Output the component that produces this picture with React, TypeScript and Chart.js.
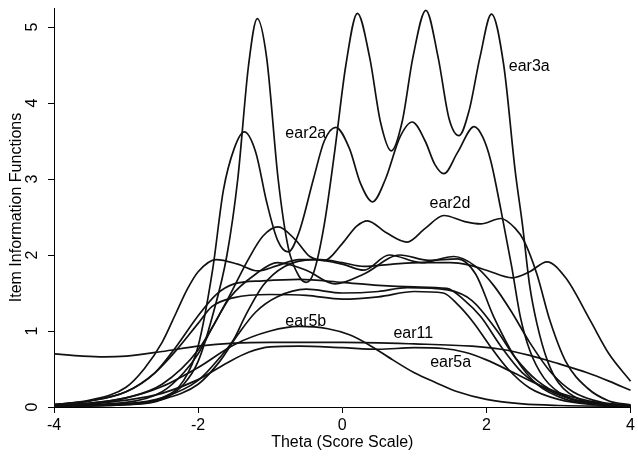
import React, { useEffect, useRef } from 'react';
import { Chart, registerables } from 'chart.js';

Chart.register(...registerables);

const FONT = '"Liberation Sans", Arial, Helvetica, sans-serif';

// ---- axis ticks ----
const xTicks = [-4, -2, 0, 2, 4];
const yTicks = [0, 1, 2, 3, 4, 5];

// ---- item information curves (theta, information) ----
const ear3aX = [-4, -3, -2.5, -2.2, -2.0, -1.8, -1.6, -1.45, -1.3, -1.18, -1.05, -0.89, -0.75, -0.6, -0.5, -0.4, -0.25, -0.1, 0.05, 0.21, 0.38, 0.53, 0.68, 0.83, 0.98, 1.16, 1.33, 1.48, 1.62, 1.76, 1.91, 2.07, 2.24, 2.4, 2.5, 2.6, 2.7, 2.85, 3.0, 3.3, 3.6, 4];
const ear3aY = [0.01, 0.03, 0.1, 0.3, 0.6, 1.2, 2.0, 3.0, 4.5, 5.11, 4.6, 3.0, 2.1, 1.72, 1.64, 1.76, 2.4, 3.4, 4.5, 5.18, 4.6, 3.75, 3.37, 3.75, 4.6, 5.22, 4.6, 3.8, 3.57, 3.9, 4.6, 5.17, 4.5, 3.1, 2.4, 1.6, 1.1, 0.6, 0.32, 0.1, 0.04, 0.01];

const ear2aX = [-4, -3, -2.5, -2.2, -2.0, -1.8, -1.65, -1.5, -1.36, -1.2, -1.05, -0.9, -0.75, -0.6, -0.4, -0.25, -0.09, 0.1, 0.25, 0.42, 0.6, 0.8, 0.97, 1.15, 1.28, 1.41, 1.6, 1.83, 1.95, 2.06, 2.2, 2.35, 2.47, 2.6, 2.8, 3.1, 3.5, 4];
const ear2aY = [0.01, 0.04, 0.12, 0.35, 0.8, 1.8, 2.85, 3.4, 3.62, 3.35, 2.7, 2.2, 2.04, 2.3, 3.0, 3.5, 3.68, 3.4, 2.95, 2.7, 3.0, 3.55, 3.75, 3.5, 3.2, 3.07, 3.35, 3.69, 3.55, 3.24, 2.6, 1.85, 1.19, 0.75, 0.38, 0.14, 0.05, 0.01];

const ear2dX = [-4, -3.5, -3, -2.5, -2.0, -1.6, -1.3, -1.1, -0.89, -0.65, -0.45, -0.25, 0.0, 0.2, 0.35, 0.6, 0.9, 1.15, 1.41, 1.7, 1.92, 2.2, 2.4, 2.52, 2.7, 2.88, 3.1, 3.4, 3.7, 4];
const ear2dY = [0.02, 0.05, 0.12, 0.3, 0.75, 1.4, 1.95, 2.25, 2.37, 2.2, 1.98, 1.93, 2.15, 2.38, 2.45, 2.3, 2.17, 2.35, 2.52, 2.44, 2.41, 2.48, 2.35, 2.19, 1.75, 1.14, 0.6, 0.25, 0.08, 0.03];

const item04X = [-4, -3.5, -3, -2.75, -2.5, -2.3, -2.15, -2.0, -1.75, -1.45, -1.17, -0.9, -0.6, -0.3, 0.0, 0.3, 0.7, 1.1, 1.5, 1.75, 2.0, 2.36, 2.6, 2.84, 3.1, 3.44, 3.7, 4];
const item04Y = [0.03, 0.09, 0.26, 0.5, 0.85, 1.25, 1.55, 1.78, 1.94, 1.88, 1.79, 1.86, 1.94, 1.94, 1.9, 1.85, 1.88, 1.9, 1.9, 1.87, 1.8, 1.7, 1.78, 1.91, 1.7, 1.14, 0.7, 0.34];

const item05X = [-4, -3, -2.5, -2.0, -1.7, -1.5, -1.35, -1.1, -0.8, -0.4, 0.0, 0.3, 0.65, 1.1, 1.55, 1.85, 2.1, 2.35, 2.6, 2.9, 3.2, 3.6, 4];
const item05Y = [0.01, 0.04, 0.12, 0.35, 0.65, 0.9, 1.19, 1.6, 1.85, 1.94, 1.88, 1.8, 2.0, 1.9, 1.98, 1.85, 1.6, 1.25, 0.85, 0.45, 0.2, 0.06, 0.02];

const item06X = [-4, -3, -2.5, -2.2, -2.0, -1.8, -1.55, -1.2, -0.9, -0.5, -0.1, 0.3, 0.8, 1.2, 1.6, 1.85, 2.1, 2.4, 2.7, 3.1, 3.5, 4];
const item06Y = [0.02, 0.06, 0.2, 0.45, 0.7, 1.05, 1.45, 1.75, 1.9, 1.8, 1.62, 1.75, 2.0, 1.93, 1.95, 1.75, 1.19, 0.65, 0.3, 0.1, 0.04, 0.01];

const item07X = [-4, -3, -2.5, -2.0, -1.7, -1.45, -1.2, -0.9, -0.5, 0.0, 0.5, 0.9, 1.46, 1.8, 2.15, 2.4, 2.7, 3.1, 3.5, 4];
const item07Y = [0.01, 0.03, 0.1, 0.3, 0.6, 0.95, 1.25, 1.45, 1.55, 1.5, 1.52, 1.57, 1.54, 1.4, 1.0, 0.65, 0.35, 0.13, 0.04, 0.01];

const item08X = [-4, -3.5, -3, -2.6, -2.3, -2.0, -1.75, -1.5, -1.1, -0.6, 0.0, 0.5, 1.0, 1.45, 1.7, 1.92, 2.2, 2.5, 2.86, 3.2, 3.6, 4];
const item08Y = [0.03, 0.08, 0.2, 0.45, 0.8, 1.2, 1.48, 1.62, 1.66, 1.68, 1.64, 1.6, 1.58, 1.56, 1.4, 1.19, 0.8, 0.45, 0.22, 0.1, 0.04, 0.02];

const item09X = [-4, -3.5, -3, -2.6, -2.3, -2.0, -1.81, -1.5, -1.0, -0.5, 0.0, 0.5, 1.0, 1.4, 1.6, 1.83, 2.03, 2.3, 2.6, 3.0, 3.5, 4];
const item09Y = [0.03, 0.08, 0.2, 0.45, 0.75, 1.1, 1.32, 1.44, 1.48, 1.47, 1.42, 1.45, 1.52, 1.5, 1.35, 1.1, 0.83, 0.5, 0.25, 0.1, 0.03, 0.01];

const ear5bX = [-4, -3.5, -3, -2.5, -2.0, -1.5, -1.0, -0.6, -0.2, 0.1, 0.35, 0.7, 1.0, 1.3, 1.6, 2.0, 2.5, 3.0, 4];
const ear5bY = [0.02, 0.05, 0.12, 0.27, 0.52, 0.82, 1.0, 1.06, 1.03, 0.95, 0.83, 0.62, 0.45, 0.32, 0.2, 0.1, 0.04, 0.02, 0.01];

const ear5aX = [-4, -3.5, -3, -2.5, -2.0, -1.6, -1.3, -1.0, -0.6, 0.0, 0.5, 1.0, 1.4, 1.7, 2.0, 2.4, 2.8, 3.2, 3.6, 4];
const ear5aY = [0.02, 0.04, 0.09, 0.18, 0.36, 0.58, 0.72, 0.79, 0.8, 0.78, 0.76, 0.78, 0.77, 0.72, 0.62, 0.44, 0.26, 0.13, 0.05, 0.02];

const ear11X = [-4, -3.6, -3.3, -3.0, -2.5, -2.0, -1.5, -1.0, 0.0, 1.0, 1.8, 2.2, 2.6, 3.0, 3.4, 3.7, 4];
const ear11Y = [0.7, 0.67, 0.66, 0.67, 0.73, 0.8, 0.84, 0.85, 0.85, 0.83, 0.8, 0.76, 0.68, 0.57, 0.45, 0.34, 0.22];

const curveNames = ['ear3a', 'ear2a', 'ear2d', 'item04', 'item05', 'item06', 'item07', 'item08', 'item09', 'ear5b', 'ear5a', 'ear11'];
const curveXs = [ear3aX, ear2aX, ear2dX, item04X, item05X, item06X, item07X, item08X, item09X, ear5bX, ear5aX, ear11X];
const curveYs = [ear3aY, ear2aY, ear2dY, item04Y, item05Y, item06Y, item07Y, item08Y, item09Y, ear5bY, ear5aY, ear11Y];

// ---- in-plot labels (text, theta of left edge, information at middle) ----
const labelTexts = ['ear3a', 'ear2a', 'ear2d', 'ear5b', 'ear11', 'ear5a'];
const labelThetas = [2.31, -0.79, 1.21, -0.79, 0.71, 1.22];
const labelInfos = [4.48, 3.6, 2.68, 1.13, 0.96, 0.59];

const xTitle = 'Theta (Score Scale)';
const yTitle = 'Item Information Functions';

const textPlugin = {
  id: 'textPlugin',
  afterDraw(chart: any) {
    const ctx = chart.ctx;
    const xs = chart.scales.x;
    const ys = chart.scales.y;
    const area = chart.chartArea;
    ctx.save();
    ctx.fillStyle = '#000';
    ctx.font = `16px ${FONT}`;
    // rotated y tick labels
    yTicks.forEach((v) => {
      const py = ys.getPixelForValue(v);
      ctx.save();
      ctx.translate(area.left - 21, py);
      ctx.rotate(-Math.PI / 2);
      ctx.textAlign = 'center';
      ctx.textBaseline = 'middle';
      ctx.fillText(String(v), 0, 0);
      ctx.restore();
    });
    // x title
    ctx.textAlign = 'center';
    ctx.textBaseline = 'middle';
    ctx.fillText(xTitle, (area.left + area.right) / 2, area.bottom + 36);
    // y title
    ctx.save();
    ctx.translate(area.left - 37, (area.top + area.bottom) / 2);
    ctx.rotate(-Math.PI / 2);
    ctx.fillText(yTitle, 0, 0);
    ctx.restore();
    // curve labels
    ctx.textAlign = 'left';
    ctx.textBaseline = 'middle';
    labelTexts.forEach((t, i) => {
      ctx.fillText(t, xs.getPixelForValue(labelThetas[i]), ys.getPixelForValue(labelInfos[i]));
    });
    ctx.restore();
  },
};

export default function App() {
  const ref = useRef<HTMLCanvasElement | null>(null);
  useEffect(() => {
    if (!ref.current) return;
    const datasets = curveNames.map((name, k) => ({
      label: name,
      data: curveXs[k].map((x, i) => ({ x, y: curveYs[k][i] })),
      borderColor: '#111111',
      borderWidth: 1.7,
      pointRadius: 0,
      fill: false,
      cubicInterpolationMode: 'monotone' as const,
      clip: 6,
    }));
    const axisGrid = { drawOnChartArea: false, drawTicks: true, tickLength: 6, color: '#000', lineWidth: 1 };
    const chart = new Chart(ref.current, {
      type: 'line',
      data: { datasets },
      options: {
        responsive: false,
        animation: false,
        layout: { padding: { left: 0, right: 4, top: 8, bottom: 0 } },
        plugins: { legend: { display: false }, tooltip: { enabled: false } },
        scales: {
          x: {
            type: 'linear',
            min: -4,
            max: 4,
            afterFit: (s: any) => { s.height = 49; },
            afterBuildTicks: (s: any) => { s.ticks = xTicks.map((v) => ({ value: v })); },
            ticks: {
              font: { family: FONT, size: 16 },
              color: '#000',
              padding: 3,
              maxRotation: 0,
              autoSkip: false,
              callback: (v: any) => String(v),
            },
            grid: axisGrid,
            border: { display: true, color: '#000', width: 1 },
          },
          y: {
            type: 'linear',
            min: 0,
            max: 5.25,
            afterFit: (s: any) => { s.width = 54; },
            afterBuildTicks: (s: any) => { s.ticks = yTicks.map((v) => ({ value: v })); },
            ticks: { display: false },
            grid: axisGrid,
            border: { display: true, color: '#000', width: 1 },
          },
        },
      },
      plugins: [textPlugin],
    });
    return () => chart.destroy();
  }, []);
  return (
    <div style={{ position: 'fixed', left: 0, top: 0, width: 638, height: 456, background: '#fff' }}>
      <canvas ref={ref} width={638} height={456} style={{ display: 'block' }} />
    </div>
  );
}
